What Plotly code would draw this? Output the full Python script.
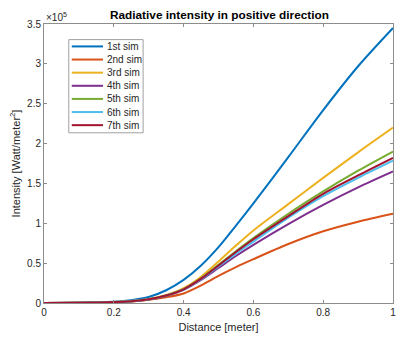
import plotly.graph_objects as go

distance = [0, 0.1, 0.2, 0.25, 0.3, 0.35, 0.4, 0.45, 0.5, 0.55, 0.6, 0.7, 0.8, 0.9, 1.0]
sim1 = [0, 0.002, 0.015, 0.035, 0.075, 0.16, 0.29, 0.47, 0.70, 0.97, 1.25, 1.83, 2.42, 2.97, 3.45]
sim2 = [0, 0.002, 0.010, 0.020, 0.040, 0.072, 0.12, 0.22, 0.34, 0.45, 0.55, 0.74, 0.90, 1.02, 1.12]
sim3 = [0, 0.002, 0.012, 0.025, 0.050, 0.100, 0.185, 0.33, 0.52, 0.72, 0.91, 1.24, 1.57, 1.89, 2.20]
sim4 = [0, 0.002, 0.011, 0.022, 0.045, 0.090, 0.165, 0.29, 0.44, 0.59, 0.73, 0.99, 1.23, 1.45, 1.65]
sim5 = [0, 0.002, 0.011, 0.023, 0.047, 0.095, 0.175, 0.31, 0.48, 0.65, 0.815, 1.12, 1.40, 1.66, 1.90]
sim6 = [0, 0.002, 0.011, 0.023, 0.046, 0.093, 0.170, 0.30, 0.46, 0.62, 0.77, 1.07, 1.34, 1.57, 1.785]
sim7 = [0, 0.002, 0.011, 0.023, 0.047, 0.094, 0.172, 0.305, 0.47, 0.64, 0.80, 1.09, 1.37, 1.60, 1.82]
scale = 1e5

names = ["1st sim", "2nd sim", "3rd sim", "4th sim", "5th sim", "6th sim", "7th sim"]
series = [sim1, sim2, sim3, sim4, sim5, sim6, sim7]
colors = ["#0072BD", "#D95319", "#EDB120", "#7E2F8E", "#77AC30", "#4DBEEE", "#A2142F"]

ytick_vals = [0, 0.5, 1, 1.5, 2, 2.5, 3, 3.5]
ytick_text = ["0", "0.5", "1", "1.5", "2", "2.5", "3", "3.5"]
xtick_vals = [0, 0.2, 0.4, 0.6, 0.8, 1]
xtick_text = ["0", "0.2", "0.4", "0.6", "0.8", "1"]

FONT = "Liberation Sans, Arial, sans-serif"
TXT = "#262626"
AX = "#8c8c8c"

fig = go.Figure()
for name, vals, col in zip(names, series, colors):
    fig.add_trace(go.Scatter(
        x=distance, y=[v * scale for v in vals], mode="lines", name=name,
        line=dict(color=col, width=2, shape="spline", smoothing=0.8),
        showlegend=False,
    ))

fig.update_layout(
    width=397, height=339,
    margin=dict(l=44, r=1, t=24, b=36),
    paper_bgcolor="white", plot_bgcolor="white",
    font=dict(family=FONT, size=10, color=TXT),
    title=dict(text="<b>Radiative intensity in positive direction</b>",
               x=0.5528, xanchor="center", y=0.955, yanchor="middle",
               font=dict(size=11.8, color="#000000")),
)
fig.update_xaxes(
    range=[0, 1], tickvals=xtick_vals, ticktext=xtick_text,
    showgrid=False, zeroline=False, showline=True, linecolor=AX, linewidth=1,
    mirror="ticks", ticks="inside", ticklen=3, tickcolor=AX,
    tickfont=dict(size=10, color=TXT), ticklabeloverflow="allow",
    title=dict(text="Distance [meter]", font=dict(size=11, color=TXT), standoff=6),
)
fig.update_yaxes(
    range=[0, 3.5 * scale], tickvals=[v * scale for v in ytick_vals], ticktext=ytick_text,
    showgrid=False, zeroline=False, showline=True, linecolor=AX, linewidth=1,
    mirror="ticks", ticks="inside", ticklen=3, tickcolor=AX,
    tickfont=dict(size=10, color=TXT),
    title=dict(text="Intensity [Watt/meter<sup>2</sup>]", font=dict(size=11, color=TXT), standoff=4),
)

# exponent label
fig.add_annotation(text="\u00d710<sup>5</sup>", xref="paper", yref="paper", x=0.0, y=1.0,
                   xanchor="left", yanchor="bottom", showarrow=False,
                   font=dict(size=10, color=TXT), yshift=-1)

# legend box (custom, to match compact MATLAB legend)
lx0, lx1, ly0, ly1 = 0.071, 0.284, 0.61, 0.944
fig.add_shape(type="rect", xref="paper", yref="paper", x0=lx0, x1=lx1, y0=ly0, y1=ly1,
              line=dict(color="#a0a0a0", width=1), fillcolor="white", layer="above")
row_h = 13.17 / 280
first = (303.5 - 46) / 280
for i, (name, col) in enumerate(zip(names, colors)):
    yy = first - i * row_h
    fig.add_shape(type="line", xref="paper", yref="paper",
                  x0=(72 - 44) / 352, x1=(103.5 - 44) / 352, y0=yy, y1=yy,
                  line=dict(color=col, width=2), layer="above")
    fig.add_annotation(text=name, xref="paper", yref="paper", x=(106 - 44) / 352, y=yy,
                       xanchor="left", yanchor="middle", showarrow=False,
                       font=dict(size=10, color=TXT))

fig.write_html("out.html")
